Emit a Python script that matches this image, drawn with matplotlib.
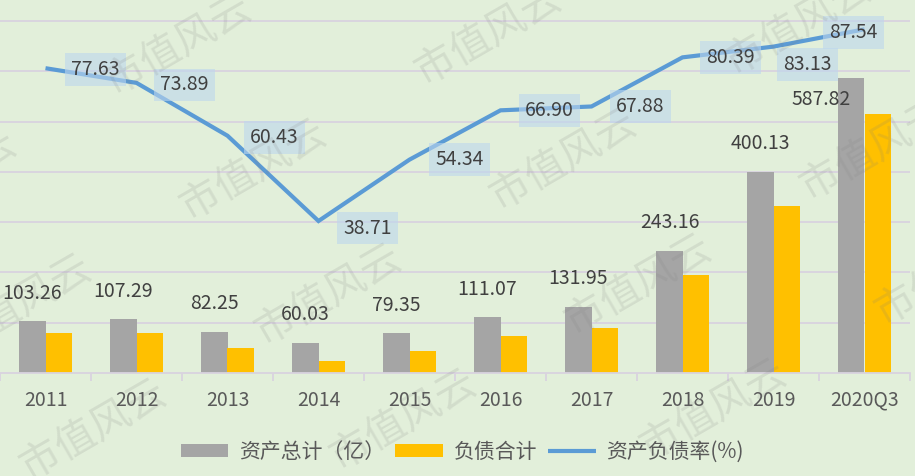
import numpy as np
import matplotlib.pyplot as plt

# data
years = ["2011", "2012", "2013", "2014", "2015", "2016", "2017", "2018", "2019", "2020Q3"]
total_assets = [103.26, 107.29, 82.25, 60.03, 79.35, 111.07, 131.95, 243.16, 400.13, 587.82]
total_debt = [80.2, 79.3, 49.7, 23.2, 43.1, 74.3, 89.6, 195.5, 332.6, 514.6]
debt_ratio = [77.63, 73.89, 60.43, 38.71, 54.34, 66.90, 67.88, 80.39, 83.13, 87.54]

plt.rcParams['font.family'] = ['Noto Sans CJK SC', 'DejaVu Sans']

bg = '#e2efda'
grid_c = '#d9d3df'
txt_c = '#404040'

fig = plt.figure(figsize=(9.15, 4.76), dpi=100, facecolor=bg)
ax = fig.add_axes([0, 103/476, 910/915, 373/476])
ax.set_facecolor(bg)

x = np.arange(len(years))
w = 0.286
b1 = ax.bar(x - w/2, total_assets, w, color='#a5a5a5', label='资产总计（亿）', zorder=2)
b2 = ax.bar(x + w/2, total_debt, w, color='#ffc000', label='负债合计', zorder=2)

ax.set_xlim(-0.5, 9.5)
ax.set_ylim(0, 742)
ax.set_yticks(np.arange(100, 800, 100))
ax.yaxis.grid(True, color=grid_c, lw=1.3, zorder=0)
ax.tick_params(axis='y', length=0, labelleft=False)
for s in ['left', 'right', 'top']:
    ax.spines[s].set_visible(False)
ax.spines['bottom'].set_color(grid_c)
ax.spines['bottom'].set_linewidth(1.3)

ax.set_xticks(x)
ax.set_xticklabels(years, fontsize=14, color='#595959')
ax.set_xticks(np.arange(-0.5, 10, 1), minor=True)
ax.tick_params(axis='x', which='major', length=0, pad=12)
ax.tick_params(axis='x', which='minor', length=6, color=grid_c, width=1.3)

# value labels above the grey bars
bar_offsets = [(0, 28)] * 9 + [(-30, -22)]
for xi, v, off in zip(x, total_assets, bar_offsets):
    ax.annotate(f"{v:.2f}", (xi - w/2, v), xytext=off, textcoords='offset pixels',
                ha='center', va='center', fontsize=14, color=txt_c)

# debt ratio line on its own axis
ax2 = ax.twinx()
ax2.set_ylim(0, 95)
ax2.axis('off')
line, = ax2.plot(x, debt_ratio, color='#5b9bd5', lw=3, label='资产负债率(%)',
                 solid_capstyle='butt', solid_joinstyle='miter', zorder=3)

line_offsets = [(50, -1), (48, -2), (47, -2), (49, -7), (50, 0),
                (49, 0), (49, 0), (48, 0), (34, -18), (-11, -3)]
for xi, v, off in zip(x, debt_ratio, line_offsets):
    ax2.annotate(f"{v:.2f}", (xi, v), xytext=off, textcoords='offset pixels',
                 ha='center', va='center', fontsize=14, color=txt_c, zorder=4,
                 bbox=dict(boxstyle='square,pad=0.3', fc='#bdd7ee', ec='none', alpha=0.6))

leg = fig.legend(handles=[b1, b2, line], loc='center', bbox_to_anchor=(462/915, 1 - 452/476),
                 ncol=3, frameon=False, fontsize=15, handlelength=2.3, handleheight=0.62,
                 handletextpad=0.5, columnspacing=0.5)
for t in leg.get_texts():
    t.set_color('#595959')

# watermark, thin grey text tiled across the picture
for i in range(-4, 6):
    for j in range(-2, 4):
        px = 178 + i*75 + j*310
        py = 45 + i*125 - j*10
        if -60 < px < 975 and -40 < py < 520:
            fig.text(px/915, 1 - py/476, "市值风云", fontsize=29, fontweight='light',
                     color='#7f7f7f', alpha=0.16, rotation=30,
                     ha='center', va='center', zorder=10)

fig.savefig('out.png', dpi=100, facecolor=bg)
